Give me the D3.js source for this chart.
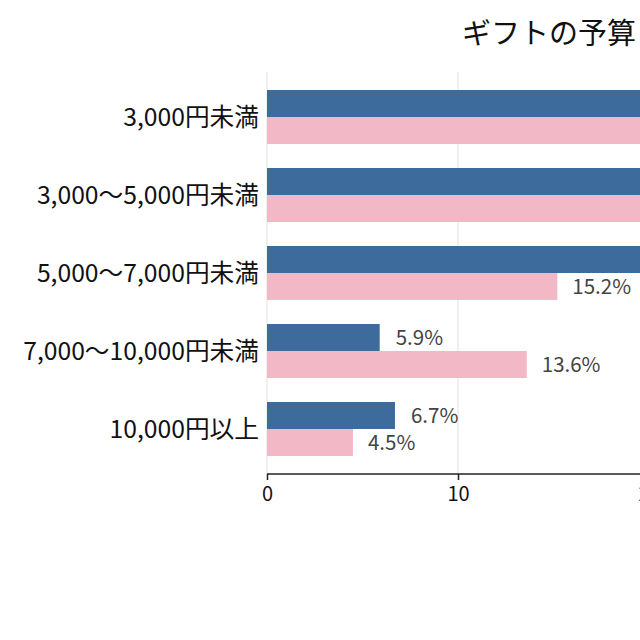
<!DOCTYPE html>
<html>
<head>
<meta charset="utf-8">
<script src="https://cdn.jsdelivr.net/npm/d3@7"></script>
<style>
  body { margin: 0; overflow: hidden; background: #fff; }
  svg { display: block; font-family: "Noto Sans CJK JP", "Noto Sans", sans-serif; }
</style>
</head>
<body>
<script>
// budget categories and shares (%) — first bars run past the visible frame
const categories = ["3,000円未満", "3,000〜5,000円未満", "5,000〜7,000円未満", "7,000〜10,000円未満", "10,000円以上"];
const seriesA = [31.5, 28.4, 21.5, 5.9, 6.7];
const seriesB = [23.3, 27.1, 15.2, 13.6, 4.5];
const xTicks = [0, 10, 20, 30];
const title = "ギフトの予算";

const width = 960;
const height = 640;
const margin = { top: 72, right: 40, bottom: 166, left: 267 };

const svg = d3.select("body")
  .append("svg")
  .attr("width", width)
  .attr("height", height);

const x = d3.scaleLinear()
  .domain([0, 10])
  .range([margin.left, 458]);

const y = d3.scaleBand()
  .domain(categories)
  .range([margin.top, height - margin.bottom])
  .paddingInner(0.3077)
  .paddingOuter(0.2308);

const rows = categories.map((c, i) => ({ cat: c, a: seriesA[i], b: seriesB[i] }));

// gridlines
svg.append("g")
  .selectAll("line")
  .data(xTicks)
  .enter()
  .append("line")
  .attr("x1", d => x(d))
  .attr("x2", d => x(d))
  .attr("y1", margin.top)
  .attr("y2", height - margin.bottom)
  .attr("stroke", "#e0e0e0")
  .attr("stroke-width", 1);

const half = y.bandwidth() / 2;

svg.selectAll(".barA")
  .data(rows)
  .enter()
  .append("rect")
  .attr("class", "barA")
  .attr("x", x(0))
  .attr("y", d => y(d.cat))
  .attr("width", d => x(d.a) - x(0))
  .attr("height", half)
  .attr("fill", "#3d6c9c");

svg.selectAll(".barB")
  .data(rows)
  .enter()
  .append("rect")
  .attr("class", "barB")
  .attr("x", x(0))
  .attr("y", d => y(d.cat) + half)
  .attr("width", d => x(d.b) - x(0))
  .attr("height", half)
  .attr("fill", "#f2b8c6");

svg.selectAll(".labelA")
  .data(rows)
  .enter()
  .append("text")
  .attr("class", "labelA")
  .text(d => d.a.toFixed(1) + "%")
  .attr("x", d => x(d.a) + 16)
  .attr("y", d => y(d.cat) + half / 2)
  .attr("dy", "0.36em")
  .attr("font-size", 20.5)
  .attr("fill", "#444");

svg.selectAll(".labelB")
  .data(rows)
  .enter()
  .append("text")
  .attr("class", "labelB")
  .text(d => d.b.toFixed(1) + "%")
  .attr("x", d => x(d.b) + 15)
  .attr("y", d => y(d.cat) + half * 1.5)
  .attr("dy", "0.36em")
  .attr("font-size", 20.5)
  .attr("fill", "#444");

// x axis
const xAxis = svg.append("g")
  .attr("transform", `translate(0,${height - margin.bottom})`)
  .call(d3.axisBottom(x).tickValues(xTicks).tickSize(6).tickPadding(7));
xAxis.select(".domain").attr("stroke", "#222").attr("stroke-width", 1.5)
  .attr("d", `M${x(0)},0H${width}`);
xAxis.selectAll(".tick line").attr("stroke", "#222").attr("stroke-width", 1.5);
xAxis.selectAll(".tick text")
  .attr("font-size", 20)
  .attr("fill", "#111")
  .attr("font-family", "'Noto Sans CJK JP', sans-serif");

// category labels
svg.selectAll(".cat")
  .data(categories)
  .enter()
  .append("text")
  .attr("class", "cat")
  .text(d => d)
  .attr("x", margin.left - 8)
  .attr("y", d => y(d) + y.bandwidth() / 2)
  .attr("dy", "0.36em")
  .attr("font-size", 24.7)
  .attr("fill", "#111");

svg.selectAll(".cat").attr("text-anchor", "end");

svg.append("text")
  .text(title)
  .attr("x", 462)
  .attr("y", 44)
  .attr("font-size", 29)
  .attr("fill", "#111");
</script>
</body>
</html>
